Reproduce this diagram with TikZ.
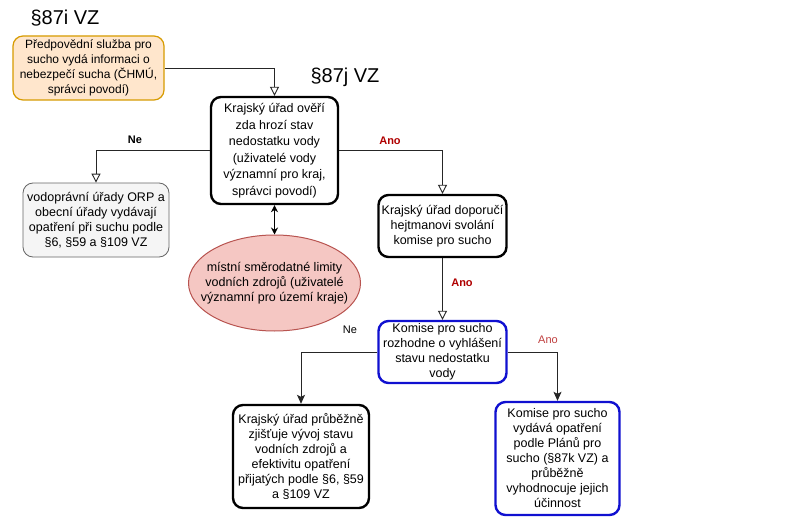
\documentclass[tikz,border=0pt]{standalone}
\usepackage{fontspec}
\setmainfont{Liberation Sans}
\usetikzlibrary{arrows.meta,shapes.geometric}
\definecolor{orfill}{HTML}{FFE6CC}
\definecolor{ordraw}{HTML}{D79B00}
\definecolor{grfill}{HTML}{F5F5F5}
\definecolor{grdraw}{HTML}{666666}
\definecolor{elfill}{HTML}{F5C7C3}
\definecolor{eldraw}{HTML}{B85450}
\definecolor{blueline}{HTML}{1010D0}
\definecolor{darkred}{HTML}{B00000}
\definecolor{lightred}{HTML}{C04040}
\begin{document}
\begin{tikzpicture}[x=1pt,y=-1pt,
  box/.style={rectangle, rounded corners=10pt, align=center, inner sep=0pt,
    font=\fontsize{12.5}{15}\selectfont},
  blackbox/.style={box, draw=black, line width=2.4pt, fill=white},
  bluebox/.style={box, draw=blueline, line width=2.4pt, fill=white},
  orangebox/.style={box, draw=ordraw, line width=1.2pt, fill=orfill, font=\fontsize{12}{15}\selectfont},
  graybox/.style={box, draw=grdraw, line width=0.8pt, fill=grfill},
  ellbox/.style={ellipse, draw=eldraw, line width=1pt, fill=elfill, align=center,
    inner xsep=-16pt, inner ysep=0pt, font=\fontsize{12.5}{15}\selectfont},
  conn/.style={draw=black!85, line width=0.9pt},
  openarr/.style={-{Triangle[open,length=9pt,width=9pt]}},
  fillarr/.style={-{Stealth[length=9pt,width=8pt,inset=2pt]}},
  dblarr/.style={draw=black, line width=1.8pt, {Stealth[length=7pt,width=7pt]}-{Stealth[length=7pt,width=7pt]}},
  sect/.style={font=\fontsize{20}{22}\selectfont},
  lab/.style={font=\fontsize{11}{13}\selectfont}
]
\useasboundingbox[fill=white] (0,0) rectangle (800,524);

\node[sect] (s1) at (65,18) {§87i VZ};
\node[sect] (s2) at (345,77) {§87j VZ};

\node[orangebox, minimum width=151pt, minimum height=64pt] (o) at (88.5,68)
  {Předpovědní služba pro\\ sucho vydá informaci o\\ nebezpečí sucha (ČHMÚ,\\ správci povodí)};

\node[blackbox, minimum width=127pt, minimum height=107pt,
  font=\fontsize{12.5}{16.5}\selectfont] (m) at (274.5,150.5)
  {Krajský úřad ověří\\ zda hrozí stav\\ nedostatku vody\\ (uživatelé vody\\ významní pro kraj,\\ správci povodí)};

\node[graybox, minimum width=146pt, minimum height=74pt] (g) at (96,220)
  {vodoprávní úřady ORP a\\ obecní úřady vydávají\\ opatření při suchu podle\\ §6, §59 a §109 VZ};

\node[blackbox, minimum width=128pt, minimum height=62pt] (d) at (442.5,226)
  {Krajský úřad doporučí\\ hejtmanovi svolání\\ komise pro sucho};

\node[ellbox, minimum width=172pt, minimum height=96pt] (e) at (274.5,283)
  {místní směrodatné limity\\ vodních zdrojů (uživatelé\\ významní pro území kraje)};

\node[bluebox, minimum width=128pt, minimum height=62pt] (b1) at (442.5,352)
  {Komise pro sucho\\ rozhodne o vyhlášení\\ stavu nedostatku\\ vody};

\node[blackbox, minimum width=136pt, minimum height=103pt] (bl) at (301,456.5)
  {Krajský úřad průběžně\\ zjišťuje vývoj stavu\\ vodních zdrojů a\\ efektivitu opatření\\ přijatých podle §6, §59\\ a §109 VZ};

\node[bluebox, minimum width=124pt, minimum height=113pt] (br) at (557.5,458.5)
  {Komise pro sucho\\ vydává opatření\\ podle Plánů pro\\ sucho (§87k VZ) a\\ průběžně\\ vyhodnocuje jejich\\ účinnost};

\draw[conn,openarr] (o.east) -| (m.north);
\draw[conn,openarr] (m.west) -| (g.north);
\draw[conn,openarr] (m.east) -| (d.north);
\draw[conn,openarr] (d.south) -- (b1.north);
\draw[dblarr] (m.south) -- (e.north);
\draw[conn,fillarr] (b1.west) -| (bl.north);
\draw[conn,fillarr] (b1.east) -| (br.north);

\node[lab, font=\fontsize{11}{13}\selectfont\bfseries] (l1) at (135,140) {Ne};
\node[lab, font=\fontsize{11}{13}\selectfont\bfseries, text=darkred] (l2) at (390,141) {Ano};
\node[lab, font=\fontsize{11}{13}\selectfont\bfseries, text=darkred] (l3) at (462,283) {Ano};
\node[lab] (l4) at (350,330) {Ne};
\node[lab, text=lightred] (l5) at (548,340) {Ano};
\end{tikzpicture}
\end{document}
